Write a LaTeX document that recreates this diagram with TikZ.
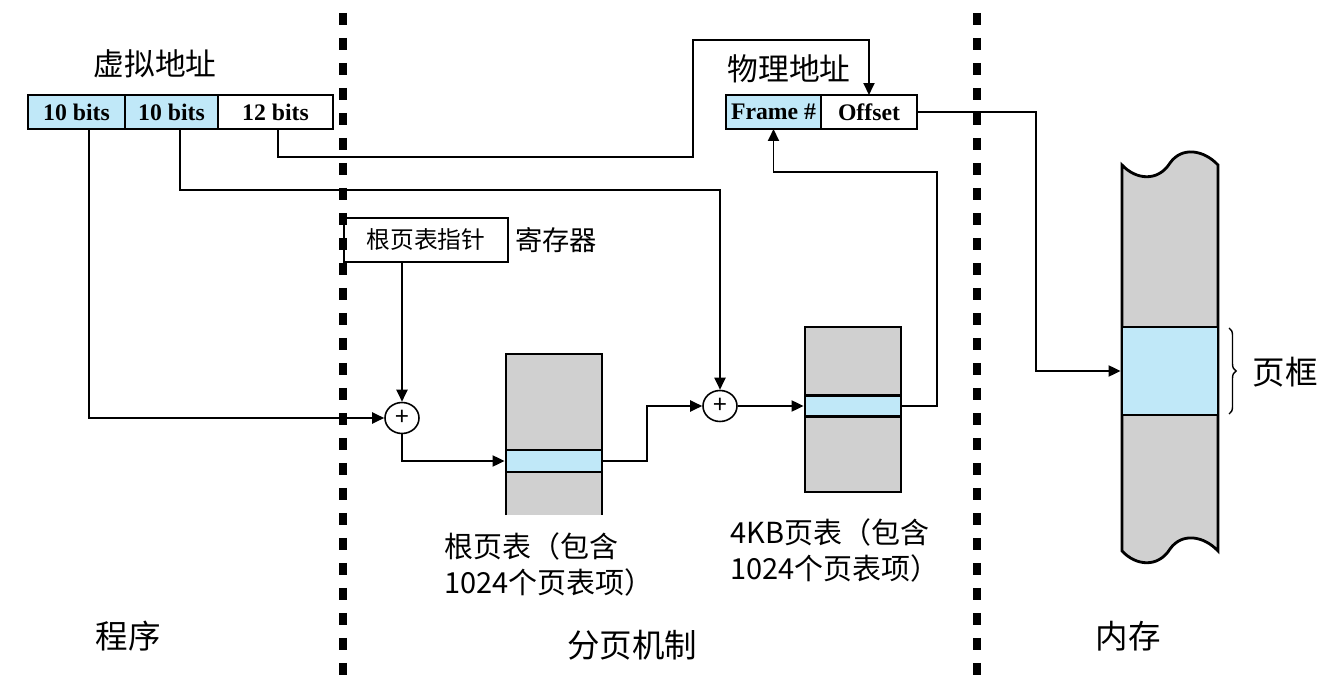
\documentclass[tikz,border=0pt]{standalone}
\usepackage{fontspec}
\setmainfont{Noto Sans CJK SC}
\newfontfamily\bitsfont{Liberation Serif}
\usetikzlibrary{positioning, arrows.meta, shapes.geometric, decorations.pathreplacing}
\definecolor{entryblue}{RGB}{192,232,248}
\definecolor{tablegray}{RGB}{208,208,208}

\begin{document}
\begin{tikzpicture}[
        x=0.02cm, y=-0.02cm,   % 1 unità = 1 pixel, y verso il basso
        % Stili dei connettori
        link/.style={line width=1.1pt, -{Triangle[length=2.4mm,width=2.2mm]}},
        separator/.style={line width=4pt, dash pattern=on 0.24cm off 0.26cm},
        % Celle degli indirizzi
        cell/.style={draw, line width=1.1pt, outer sep=0pt, inner sep=0pt, minimum height=0.68cm,
                     font=\bitsfont\bfseries\fontsize{13.5}{15}\selectfont},
        % Tabelle e voci
        tabline/.style={line width=1.6pt},
        entry/.style={draw, line width=1.6pt, fill=entryblue, inner sep=0pt, minimum width=1.92cm, minimum height=0.44cm},
        adder/.style={ellipse, draw, line width=0.9pt, inner sep=0pt, minimum width=0.68cm, minimum height=0.62cm,
                      font=\fontsize{14}{14}\selectfont},
        title/.style={font=\fontsize{17.5}{20}\selectfont},
        region/.style={font=\fontsize{18.5}{20}\selectfont},
        tablabel/.style={align=left, anchor=north west, inner sep=0pt, font=\fontsize{16.5}{20.5}\selectfont}
    ]
    \useasboundingbox (0,0) rectangle (1342,699);

    % separatori verticali
    \draw[separator] (343,13) -- (343,680);
    \draw[separator] (977,13) -- (977,680);

    % indirizzo virtuale
    \node (vatitle) [title] at (155,64) {虚拟地址};
    \node (va1) [cell, fill=entryblue, minimum width=1.94cm] at (76.5,112) {10 bits};
    \node (va2) [cell, fill=entryblue, minimum width=1.86cm, right=0pt of va1] {10 bits};
    \node (va3) [cell, minimum width=2.3cm, right=0pt of va2] {12 bits};

    % indirizzo fisico
    \node (patitle) [title] at (789,69) {物理地址};
    \node (pa1) [cell, fill=entryblue, minimum width=1.9cm] at (773.5,112) {Frame \#};
    \node (pa2) [cell, minimum width=1.92cm, right=0pt of pa1] {Offset};

    % registro
    \node (reg) [draw, line width=1.1pt, minimum width=3.28cm, minimum height=0.88cm,
                 font=\fontsize{13.5}{15}\selectfont] at (426,240) {根页表指针};
    \node (reglabel) [right=0pt of reg, font=\fontsize{15.5}{17}\selectfont] {寄存器};

    % sommatori
    \node (add1) [adder] at (402,418) {+};
    \node (add2) [adder] at (720,406) {+};

    % tabella radice (aperta in basso)
    \fill[tablegray] (506,354) rectangle (602,515);
    \draw[tabline] (506,515) |- (602,354) -- (602,515);
    \node (rootentry) [entry] at (554,461) {};
    \node (roottext) [tablabel] at (444,532) {根页表（包含\\1024个页表项）};

    % tabella 4KB
    \node (ptetab) [draw, tabline, fill=tablegray, inner sep=0pt, minimum width=1.92cm, minimum height=3.3cm] at (853,409.5) {};
    \node (pteentry) [entry, minimum height=0.42cm] at (853,406) {};
    \node (ptetext) [tablabel] at (730,518) {4KB页表（包含\\1024个页表项）};

    % memoria
    \filldraw[fill=tablegray, tabline]
        (1122,165) .. controls (1136,180) and (1158,182) .. (1170,163)
        .. controls (1182,146) and (1204,150) .. (1218,165) -- (1218,551)
        .. controls (1204,536) and (1182,532) .. (1170,549)
        .. controls (1158,568) and (1136,566) .. (1122,551) -- cycle;
    \node (memframe) [entry, minimum height=1.76cm] at (1170,371) {};
    \draw[decorate, decoration={brace, amplitude=4pt}, line width=0.8pt] (1229,328) -- (1229,414);
    \node (framelabel) [region] at (1285,372) {页框};

    % etichette delle zone
    \node (prog) [region] at (128,636) {程序};
    \node (mech) [region] at (632,645) {分页机制};
    \node (mem) [region] at (1128,636) {内存};

    % punti di piega
    \coordinate (upleft) at (693,40);
    \coordinate (upright) at (937,172);
    \coordinate (downright) at (1036,371);

    % connettori
    \draw[link] ([xshift=0.25cm]va1.south) |- (add1.west);
    \draw[link] ([xshift=0.17cm]va2.south) -- ++(0,61) -| (add2.north);
    \draw[link] ([xshift=0.05cm]va3.south) -- ++(0,28) -| (upleft) -| (pa2.north);
    \draw[link] (reg.south -| add1.north) -- (add1.north);
    \draw[link] (add1.south) |- (rootentry.west);
    \draw[link] (rootentry.east) -- ++(44,0) |- (add2.west);
    \draw[link] (add2.east) -- (pteentry.west);
    \draw[link] (pteentry.east) -| (upright) -| (pa1.south);
    \draw[link] (pa2.east) -| (downright) -- (memframe.west);
\end{tikzpicture}
\end{document}
